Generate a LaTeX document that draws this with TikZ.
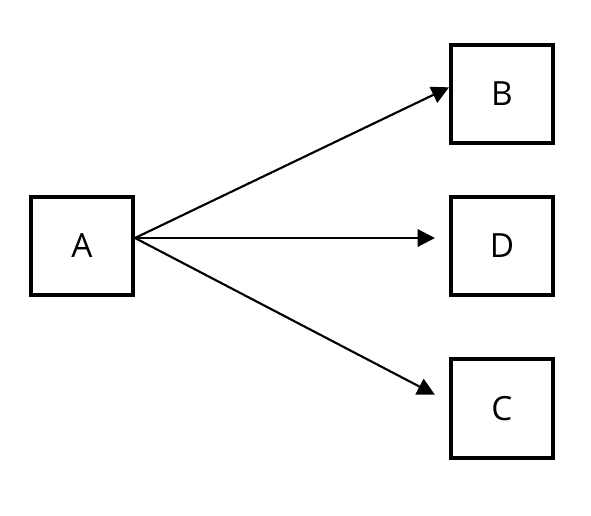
\documentclass[tikz,border=0pt]{standalone}
\usepackage{fontspec}
\setmainfont{Open Sans}
\usetikzlibrary{arrows.meta,positioning}

\begin{document}
\begin{tikzpicture}[
		x=0.75pt,y=-0.75pt,
		>={Triangle[length=13pt,width=13pt]},
		box/.style={rectangle,draw,line width=3pt,minimum width=76.5pt,minimum height=74pt,font=\fontsize{25}{30}\selectfont},
		link/.style={->,line width=1.6pt}
	]
	\useasboundingbox (0,0) rectangle (591,515);

	\node[box] (a) at (82,246) {A};
	\node[box,right=235.5pt of a] (d) {D};
	\node[box,above=37pt of d] (b) {B};
	\node[box,below=45pt of d] (c) {C};

	\draw[link] ([yshift=6pt]a.east) -- ([yshift=5pt]b.west);
	\draw[link,shorten >=10.5pt] ([yshift=6pt]a.east) -- ([yshift=6pt]d.west);
	\draw[link,shorten >=12pt] ([yshift=6pt]a.east) -- ([yshift=5pt]c.west);
\end{tikzpicture}
\end{document}
